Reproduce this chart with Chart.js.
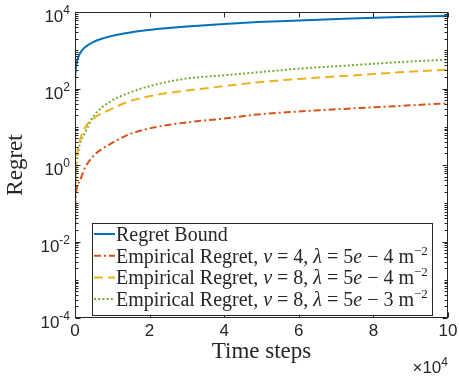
<!DOCTYPE html>
<html>
<head>
<meta charset="utf-8">
<script src="https://cdn.jsdelivr.net/npm/chart.js@4/dist/chart.umd.min.js"></script>
<style>
html,body{margin:0;padding:0;background:#fff;}
#wrap{width:459px;height:383px;position:relative;}
</style>
</head>
<body>
<div id="wrap"><canvas id="c" width="459" height="383"></canvas></div>
<script>
// ---- data (x in units of 10^4 time steps) ----
const timeSteps = [0.0001, 0.002, 0.01, 0.05, 0.13, 0.27, 0.5, 0.94, 1.48, 2.1, 3.0, 3.9, 4.9, 6.0, 7.4, 8.7, 10];
const regretBound = [26, 100, 230, 480, 820, 1200, 1660, 2310, 2930, 3480, 4150, 4800, 5450, 6000, 6750, 7350, 7900];
const empV4L4 = [0.005, 0.02, 0.08, 0.25, 0.38, 0.85, 1.75, 3.5, 6.5, 9.5, 13, 16, 21, 25, 30, 35, 41];
const empV8L4 = [0.002, 0.03, 0.2, 1.5, 4.3, 9.5, 16.5, 28, 47, 66, 89, 112, 145, 178, 218, 265, 309];
const empV8L3 = [0.015, 0.08, 0.4, 1.3, 3.5, 7, 19, 45, 79, 122, 183, 218, 265, 330, 405, 490, 570];
const seriesLabels = [
  "Regret Bound",
  "Empirical Regret, $v$ = 4, $λ$ = 5$e$ − 4 m^{−2}",
  "Empirical Regret, $v$ = 8, $λ$ = 5$e$ − 4 m^{−2}",
  "Empirical Regret, $v$ = 8, $λ$ = 5$e$ − 3 m^{−2}"
];
const xTicks = [0, 2, 4, 6, 8, 10];
const xTickLabels = ["0", "2", "4", "6", "8", "10"];
const yTickExponents = [-4, -2, 0, 2, 4];
const xTitle = "Time steps";
const yTitle = "Regret";
const xMultiplierExp = "4";

const colors = ["#0072BD", "#D95319", "#EDB120", "#77AC30"];
const dashes = [[], [7, 3, 2, 3], [9, 5], [2, 2.2]];
const seriesValues = [regretBound, empV4L4, empV8L4, empV8L3];

const datasets = seriesValues.map((vals, i) => ({
  label: seriesLabels[i],
  data: timeSteps.map((t, k) => ({x: t, y: vals[k]})),
  borderColor: colors[i],
  borderWidth: 2,
  borderDash: dashes[i],
  pointRadius: 0,
  fill: false,
  cubicInterpolationMode: 'monotone'
}));

const AX = '#262626';
const SANS = '"Liberation Sans", Arial, sans-serif';
const SERIF = '"Liberation Serif", "Times New Roman", serif';

function parseRich(s) {
  const out = [];
  let i = 0, buf = '';
  const flush = (style) => { if (buf) { out.push({t: buf, s: style}); buf = ''; } };
  while (i < s.length) {
    const ch = s[i];
    if (ch === '$') {
      flush('n');
      const j = s.indexOf('$', i + 1);
      out.push({t: s.slice(i + 1, j), s: 'i'});
      i = j + 1;
    } else if (ch === '^' && s[i + 1] === '{') {
      flush('n');
      const j = s.indexOf('}', i);
      out.push({t: s.slice(i + 2, j), s: 'sup'});
      i = j + 1;
    } else { buf += ch; i++; }
  }
  flush('n');
  return out;
}

const frameAndLabels = {
  id: 'frameAndLabels',
  afterDatasetsDraw(chart) {
    const ctx = chart.ctx, a = chart.chartArea;
    const xs = chart.scales.x, ys = chart.scales.y;
    ctx.save();
    ctx.strokeStyle = AX; ctx.lineWidth = 1; ctx.setLineDash([]);
    const L = Math.round(a.left) + 0.5, R = Math.round(a.right) - 0.5;
    const T = Math.round(a.top) + 0.5, B = Math.round(a.bottom) - 0.5;
    ctx.strokeRect(L, T, R - L, B - T);
    ctx.beginPath();
    xTicks.forEach(v => {
      const px = Math.round(xs.getPixelForValue(v)) + 0.5;
      ctx.moveTo(px, B); ctx.lineTo(px, B - 5);
      ctx.moveTo(px, T); ctx.lineTo(px, T + 5);
    });
    for (let e = -4; e <= 4; e++) {
      for (let m = 1; m <= 9; m++) {
        const v = m * Math.pow(10, e);
        if (v > 1e4 * 1.0001) break;
        const py = Math.round(ys.getPixelForValue(v)) + 0.5;
        const len = (m === 1 && yTickExponents.includes(e)) ? 5 : 3;
        ctx.moveTo(L, py); ctx.lineTo(L + len, py);
        ctx.moveTo(R, py); ctx.lineTo(R - len, py);
      }
    }
    ctx.stroke();
    ctx.fillStyle = AX;
    ctx.font = '17px ' + SANS;
    ctx.textAlign = 'center'; ctx.textBaseline = 'alphabetic';
    xTicks.forEach((v, i) => {
      ctx.fillText(xTickLabels[i], xs.getPixelForValue(v), a.bottom + 18);
    });
    yTickExponents.forEach(e => {
      const py = ys.getPixelForValue(Math.pow(10, e));
      const ex = e < 0 ? '-' + Math.abs(e) : String(e);
      ctx.font = '12px ' + SANS;
      const we = ctx.measureText(ex).width;
      ctx.font = '17px ' + SANS;
      const wb = ctx.measureText('10').width;
      const right = a.left - 5;
      ctx.textAlign = 'left';
      ctx.fillText('10', right - we - wb, py + 10);
      ctx.font = '12px ' + SANS;
      ctx.fillText(ex, right - we, py + 2);
    });
    ctx.textAlign = 'left';
    ctx.font = '12px ' + SANS;
    const wE = ctx.measureText(xMultiplierExp).width;
    ctx.font = '17px ' + SANS;
    const wM = ctx.measureText('×10').width;
    ctx.fillText('×10', a.right - wE - wM, a.bottom + 55);
    ctx.font = '12px ' + SANS;
    ctx.fillText(xMultiplierExp, a.right - wE, a.bottom + 48);
    ctx.font = '23px ' + SERIF;
    ctx.textAlign = 'center';
    ctx.fillText(xTitle, (a.left + a.right) / 2, a.bottom + 40);
    ctx.save();
    ctx.translate(22, (a.top + a.bottom) / 2);
    ctx.rotate(-Math.PI / 2);
    ctx.fillText(yTitle, 0, 0);
    ctx.restore();

    const bx = 92, by = 223, bw = 341, bh = 93;
    ctx.fillStyle = '#fff';
    ctx.fillRect(bx, by, bw, bh);
    ctx.strokeStyle = AX; ctx.lineWidth = 1;
    ctx.strokeRect(bx + 0.5, by + 0.5, bw - 1, bh - 1);
    const rowH = 21.7;
    chart.data.datasets.forEach((ds, i) => {
      const yLine = by + 11 + i * rowH;
      ctx.strokeStyle = ds.borderColor; ctx.lineWidth = 2;
      ctx.setLineDash(ds.borderDash);
      ctx.beginPath(); ctx.moveTo(bx + 2, yLine); ctx.lineTo(bx + 23, yLine); ctx.stroke();
      ctx.setLineDash([]);
      let x = bx + 24;
      const base = yLine + 7;
      ctx.fillStyle = AX; ctx.textAlign = 'left';
      parseRich(ds.label).forEach(seg => {
        if (seg.s === 'sup') {
          ctx.font = '13px ' + SERIF;
          ctx.fillText(seg.t, x, base - 8);
        } else {
          ctx.font = (seg.s === 'i' ? 'italic ' : '') + '20px ' + SERIF;
          ctx.fillText(seg.t, x, base);
        }
        x += ctx.measureText(seg.t).width;
      });
    });
    ctx.restore();
  }
};

new Chart(document.getElementById('c'), {
  type: 'line',
  data: {datasets},
  options: {
    responsive: false,
    animation: false,
    layout: {padding: {left: 75, right: 11, top: 12, bottom: 65}},
    scales: {
      x: {type: 'linear', min: 0, max: 10, display: false},
      y: {type: 'logarithmic', min: 1e-4, max: 1e4, display: false}
    },
    plugins: {legend: {display: false}, tooltip: {enabled: false}},
    events: []
  },
  plugins: [frameAndLabels]
});
</script>
</body>
</html>
